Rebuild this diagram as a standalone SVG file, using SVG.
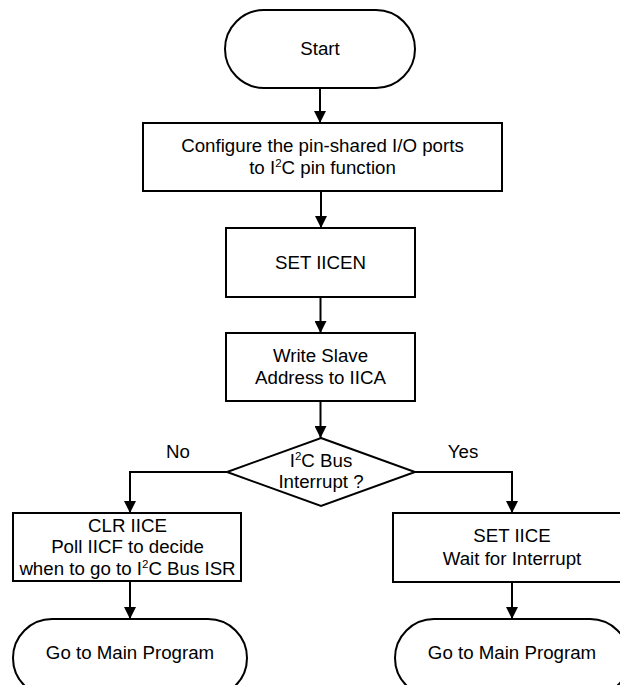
<svg xmlns="http://www.w3.org/2000/svg" width="620" height="685" viewBox="0 0 620 685">
<defs>
<style>
.s{fill:#fff;stroke:#000;stroke-width:2}
.c{fill:none;stroke:#000;stroke-width:2}
text{font-family:"Liberation Sans",Arial,sans-serif;font-size:18.7px;fill:#000;text-anchor:middle}
.sup{font-size:11.5px}
</style>
<marker id="ah" viewBox="0 0 12 12" refX="12" refY="6" markerWidth="12" markerHeight="12" markerUnits="userSpaceOnUse" orient="auto">
<path d="M0,0 L12,6 L0,12 z" fill="#000"/>
</marker>
</defs>
<rect width="620" height="685" fill="#fff"/>
<g id="connectors">
<path class="c" d="M320,88 V123" marker-end="url(#ah)"/>
<path class="c" d="M321,191 V228" marker-end="url(#ah)"/>
<path class="c" d="M320.5,297 V333" marker-end="url(#ah)"/>
<path class="c" d="M320.5,401 V438" marker-end="url(#ah)"/>
<path class="c" d="M227,472 H130 V513" marker-end="url(#ah)"/>
<path class="c" d="M415,472 H512 V513" marker-end="url(#ah)"/>
<path class="c" d="M130,581 V619" marker-end="url(#ah)"/>
<path class="c" d="M512,582 V619" marker-end="url(#ah)"/>
<text x="178" y="458">No</text>
<text x="463" y="458">Yes</text>
</g>
<g id="start">
<rect class="s" x="225" y="10" width="190" height="78" rx="39" ry="39"/>
<text x="320" y="55">Start</text>
</g>
<g id="configure">
<rect class="s" x="143" y="123" width="359" height="68"/>
<text x="322.5" y="152">Configure the pin-shared I/O ports</text>
<text x="322.5" y="174">to I<tspan class="sup" dy="-7">2</tspan><tspan dy="7">C pin function</tspan></text>
</g>
<g id="set-iicen">
<rect class="s" x="226" y="228" width="189" height="69"/>
<text x="320.5" y="269">SET IICEN</text>
</g>
<g id="write-slave">
<rect class="s" x="226" y="333" width="189" height="68"/>
<text x="320.5" y="362">Write Slave</text>
<text x="320.5" y="384">Address to IICA</text>
</g>
<g id="decision">
<polygon class="s" points="321,438 415,472 321,506 227,472"/>
<text x="321" y="467">I<tspan class="sup" dy="-7">2</tspan><tspan dy="7">C Bus</tspan></text>
<text x="321" y="488">Interrupt ?</text>
</g>
<g id="clr-iice">
<rect class="s" x="13" y="513" width="228" height="68"/>
<text x="127.5" y="532">CLR IICE</text>
<text x="127.5" y="553">Poll IICF to decide</text>
<text x="127.5" y="575">when to go to I<tspan class="sup" dy="-7">2</tspan><tspan dy="7">C Bus ISR</tspan></text>
</g>
<g id="set-iice">
<rect class="s" x="393" y="513" width="238" height="69"/>
<text x="512" y="542">SET IICE</text>
<text x="512" y="565">Wait for Interrupt</text>
</g>
<g id="main-left">
<rect class="s" x="13" y="619" width="234" height="78" rx="39" ry="39"/>
<text x="130" y="659">Go to Main Program</text>
</g>
<g id="main-right">
<rect class="s" x="395" y="619" width="234" height="78" rx="39" ry="39"/>
<text x="512" y="659">Go to Main Program</text>
</g>
</svg>
